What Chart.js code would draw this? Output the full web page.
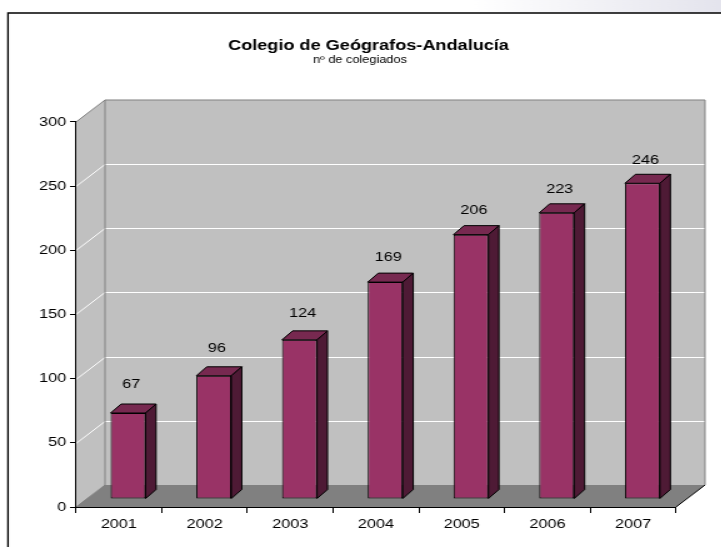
<!DOCTYPE html>
<html><head><meta charset="utf-8">
<script src="https://cdn.jsdelivr.net/npm/chart.js@4/dist/chart.umd.min.js"></script>
<style>
html,body{margin:0;padding:0;background:#fff;overflow:hidden;}
#wrap{position:absolute;left:0;top:0;width:577px;height:547px;transform:scaleX(1.25);transform-origin:0 0;}
canvas{display:block;}
</style></head><body>
<div id="wrap"><canvas id="c" width="577" height="547"></canvas></div>
<script>
const titleText = 'Colegio de Geógrafos-Andalucía';
const subtitleText = 'nº de colegiados';
const categories = ['2001', '2002', '2003', '2004', '2005', '2006', '2007'];
const values = [67, 96, 124, 169, 206, 223, 246];
const yMin = 0;
const yMax = 300;
const yStep = 50;

const WALL_DX = 23.2, WALL_DY = 22;
const BAR_FX = 7.4, BAR_FY = 8;
const BAR_DX = 8.4, BAR_DY = 9;
const TITLE_CX = 294.8, SUBTITLE_CX = 288;
const FONT = "'Liberation Sans', Arial, sans-serif";

const excel3d = {
  id: 'excel3d',
  afterLayout(chart) {
    chart.boxes.forEach(b => {
      if (!b.options || b.options.text === undefined) return;
      const cx = b.options.text === titleText ? TITLE_CX : SUBTITLE_CX;
      const half = (b.right - b.left) / 2;
      b.left = cx - half;
      b.right = cx + half;
    });
  },
  beforeDraw(chart) {
    const {ctx, chartArea: a, scales: {y}} = chart;
    const W = chart.width, H = chart.height;
    ctx.save();
    ctx.fillStyle = '#fff';
    ctx.fillRect(0, 0, W, H);
    const g = ctx.createLinearGradient(380, 0, W, 0);
    g.addColorStop(0, 'rgba(225,225,235,0)');
    g.addColorStop(1, 'rgba(225,225,235,0.9)');
    ctx.fillStyle = g;
    ctx.fillRect(380, 0, W - 380, 13);
    ctx.strokeStyle = '#000';
    ctx.lineWidth = 1.3;
    ctx.beginPath();
    ctx.moveTo(6.4, H + 5);
    ctx.lineTo(6.4, 13);
    ctx.lineTo(W + 5, 13);
    ctx.stroke();

    const L = a.left, R = a.right;
    const y0 = y.getPixelForValue(yMin), yT = y.getPixelForValue(yMax);
    ctx.fillStyle = '#c0c0c0';
    ctx.fillRect(L + WALL_DX, yT - WALL_DY, R - L, y0 - yT);
    ctx.beginPath();
    ctx.moveTo(L, y0); ctx.lineTo(L, yT); ctx.lineTo(L + WALL_DX, yT - WALL_DY); ctx.lineTo(L + WALL_DX, y0 - WALL_DY);
    ctx.closePath();
    ctx.fill();
    ctx.fillStyle = '#808080';
    ctx.beginPath();
    ctx.moveTo(L, y0); ctx.lineTo(R, y0); ctx.lineTo(R + WALL_DX, y0 - WALL_DY); ctx.lineTo(L + WALL_DX, y0 - WALL_DY);
    ctx.closePath();
    ctx.fill();
    ctx.strokeStyle = '#ffffff';
    ctx.lineWidth = 1;
    y.ticks.forEach(t => {
      if (t.value <= yMin || t.value >= yMax) return;
      const py = Math.round(y.getPixelForValue(t.value)) + 0.5;
      ctx.beginPath();
      ctx.moveTo(L, py);
      ctx.lineTo(L + WALL_DX, py - WALL_DY);
      ctx.lineTo(R + WALL_DX, py - WALL_DY);
      ctx.stroke();
    });
    ctx.strokeStyle = '#808080';
    ctx.lineWidth = 1;
    ctx.beginPath();
    ctx.moveTo(L, yT); ctx.lineTo(L + WALL_DX, yT - WALL_DY); ctx.lineTo(R + WALL_DX, yT - WALL_DY); ctx.lineTo(R + WALL_DX, y0 - WALL_DY);
    ctx.moveTo(L + WALL_DX, yT - WALL_DY); ctx.lineTo(L + WALL_DX, y0 - WALL_DY);
    ctx.moveTo(L, y0); ctx.lineTo(L + WALL_DX, y0 - WALL_DY);
    ctx.stroke();
    ctx.strokeStyle = '#000';
    ctx.beginPath();
    ctx.moveTo(R, y0); ctx.lineTo(R + WALL_DX, y0 - WALL_DY);
    ctx.stroke();
    ctx.restore();
  },
  beforeDatasetsDraw(chart) {
    chart.ctx.save();
    chart.ctx.translate(BAR_FX, -BAR_FY);
  },
  afterDatasetsDraw(chart) {
    const ctx = chart.ctx;
    const meta = chart.getDatasetMeta(0);
    ctx.lineWidth = 1;
    ctx.strokeStyle = '#000';
    ctx.lineJoin = 'round';
    meta.data.forEach(el => {
      const p = el.getProps(['x', 'y', 'base', 'width'], true);
      const l = p.x - p.width / 2, r = p.x + p.width / 2, t = p.y, b = p.base;
      ctx.fillStyle = '#772950';
      ctx.beginPath();
      ctx.moveTo(l, t); ctx.lineTo(l + BAR_DX, t - BAR_DY); ctx.lineTo(r + BAR_DX, t - BAR_DY); ctx.lineTo(r, t);
      ctx.closePath(); ctx.fill(); ctx.stroke();
      ctx.fillStyle = '#4e1a35';
      ctx.beginPath();
      ctx.moveTo(r, t); ctx.lineTo(r + BAR_DX, t - BAR_DY); ctx.lineTo(r + BAR_DX, b - BAR_DY); ctx.lineTo(r, b);
      ctx.closePath(); ctx.fill(); ctx.stroke();
    });
    ctx.restore();
    ctx.save();
    ctx.fillStyle = '#000';
    ctx.font = '13px ' + FONT;
    ctx.textAlign = 'center';
    ctx.textBaseline = 'middle';
    meta.data.forEach((el, i) => {
      const p = el.getProps(['x', 'y'], true);
      const lift = 31 - 0.035 * values[i];
      ctx.fillText(String(values[i]), p.x + BAR_FX + 2.4, p.y - BAR_FY - lift);
    });
    ctx.restore();
  }
};

new Chart(document.getElementById('c'), {
  type: 'bar',
  data: {
    labels: categories,
    datasets: [{
      data: values,
      backgroundColor: '#993366',
      borderColor: '#000',
      borderWidth: 1,
      borderSkipped: false,
      categoryPercentage: 1,
      barPercentage: 0.408
    }]
  },
  options: {
    responsive: false,
    animation: false,
    devicePixelRatio: 1,
    layout: {padding: {left: 24.8, right: 36.2, top: 0, bottom: 10}},
    plugins: {
      legend: {display: false},
      tooltip: {enabled: false},
      title: {
        display: true, text: titleText, color: '#000',
        font: {family: FONT, size: 14.5, weight: 'bold', lineHeight: 1},
        padding: {top: 38.25, bottom: 0}
      },
      subtitle: {
        display: true, text: subtitleText, color: '#000',
        font: {family: FONT, size: 10.2, lineHeight: 1.2},
        padding: {top: 1.5, bottom: 55.5}
      }
    },
    scales: {
      x: {
        grid: {display: true, drawOnChartArea: false, drawTicks: true, tickLength: 6, color: '#000', offset: true},
        border: {display: true, color: '#000', width: 1},
        ticks: {color: '#000', font: {family: FONT, size: 13}, padding: 4},
        afterFit(s) { s.height = 30; }
      },
      y: {
        min: yMin, max: yMax,
        ticks: {stepSize: yStep, color: '#000', font: {family: FONT, size: 13}, padding: 3},
        grid: {display: true, drawOnChartArea: false, drawTicks: true, tickLength: 4.8, color: '#000'},
        border: {display: true, color: '#000', width: 1},
        afterFit(s) { s.width = 36; }
      }
    }
  },
  plugins: [excel3d]
});
</script>
</body></html>
